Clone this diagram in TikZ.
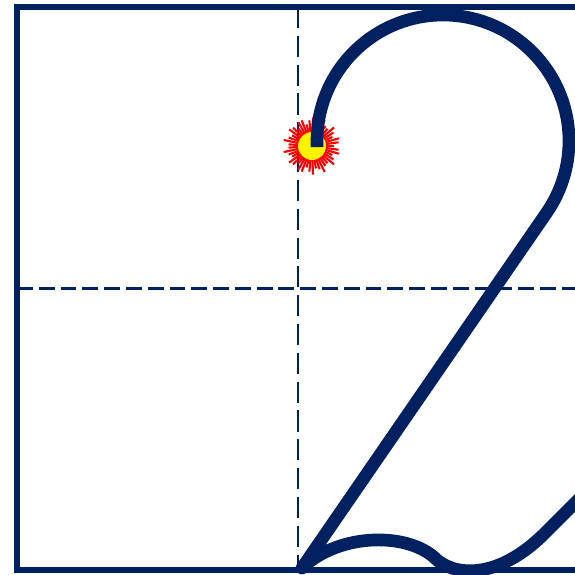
\documentclass[tikz,border=0pt]{standalone}
\usepackage{tikz}
\definecolor{inknavy}{HTML}{002060}
\tikzset{
  frame/.style  = {draw=inknavy, line width=8pt},
  guideh/.style = {draw=inknavy, line width=3pt, dash pattern=on 22.5pt off 8.5pt},
  guidev/.style = {draw=inknavy, line width=3pt, dash pattern=on 30pt off 11pt},
  digit/.style  = {draw=inknavy, line width=18pt, line join=round},
  spark/.style  = {draw=red, line width=3pt},
}
\begin{document}
\begin{tikzpicture}[x=0.5mm, y=-0.5mm]
  \useasboundingbox (0,0) rectangle (575,575);

  % writing box and guides
  \coordinate (tl) at (17,7);
  \coordinate (br) at (579,570);
  \draw[guidev] (298,7) -- (298,570);
  \draw[guideh] (17,288.5) -- (579,288.5);
  \draw[frame] (tl) rectangle (br);

  % start marker
  \coordinate (start) at (312,146);
  \foreach \a in {0,8,...,355}
    \draw[spark] (start) -- ++(\a:{22+7*sin(\a*7)^2});
  \fill[yellow] (start) circle[radius=14];

  % the stroke of the digit
  \draw[digit] (317,147) -- (317,141)
    arc[start angle=180, end angle=395, radius=126]
    -- (302,568)
    .. controls (340,532) and (410,532) .. (437,560)
    .. controls (458,577) and (500,578) .. (545,533)
    -- (600,478);
\end{tikzpicture}
\end{document}
